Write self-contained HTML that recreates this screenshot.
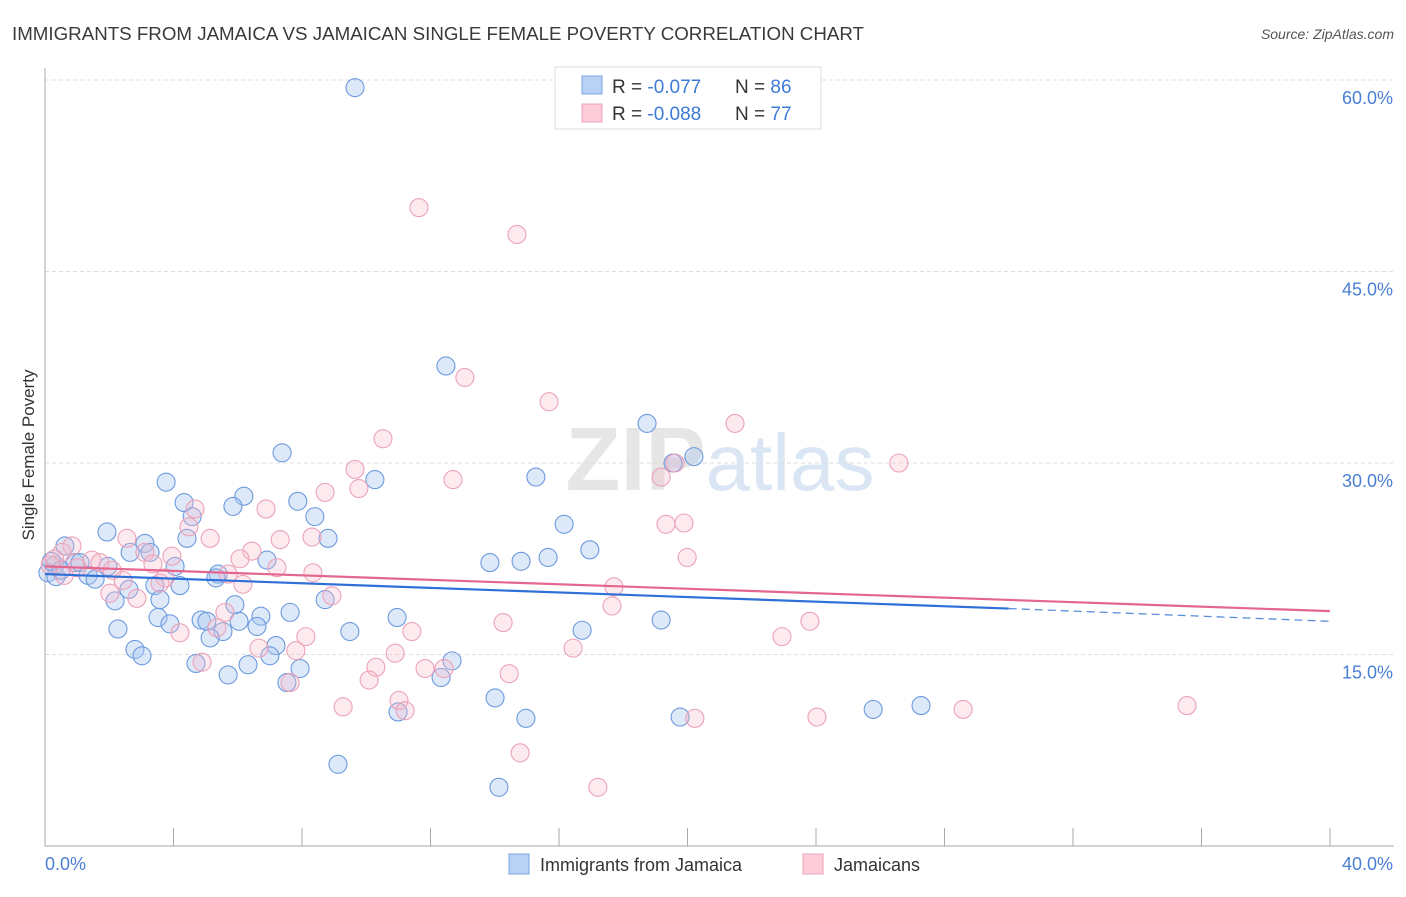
<!DOCTYPE html>
<html><head><meta charset="utf-8"><style>
body{margin:0;background:#fff;font-family:"Liberation Sans",sans-serif;}
svg text{font-family:"Liberation Sans",sans-serif;}
</style></head><body>
<svg id="chart" width="1406" height="892" xmlns="http://www.w3.org/2000/svg">
<text x="12" y="40" font-size="18" fill="#3a3a3a" textLength="852" lengthAdjust="spacingAndGlyphs">IMMIGRANTS FROM JAMAICA VS JAMAICAN SINGLE FEMALE POVERTY CORRELATION CHART</text>
<text x="1394" y="39" font-size="14" fill="#555" font-style="italic" text-anchor="end">Source: ZipAtlas.com</text>
<text x="720" y="490" font-size="90" text-anchor="middle" fill="#e6e6e6" font-family="Liberation Serif"><tspan font-weight="bold">ZIP</tspan><tspan fill="#dbe6f5" font-family="Liberation Sans" font-size="80">atlas</tspan></text>
<g id="grid"></g><g id="axes"></g><g id="pts"></g><g id="trend"></g>
<text transform="translate(34,455) rotate(-90)" font-size="17" fill="#333" text-anchor="middle">Single Female Poverty</text>
<g>
<rect x="555" y="67" width="266" height="62" fill="#fff" stroke="#ddd"/>
<rect x="582" y="76" width="20" height="18" fill="#b8d2f5" stroke="#7aa6e0"/>
<rect x="582" y="104" width="20" height="18" fill="#fcccd9" stroke="#eea0b6"/>
<text x="612" y="93" font-size="19" fill="#333">R = <tspan fill="#3d7bd6">-0.077</tspan></text>
<text x="735" y="93" font-size="19" fill="#333">N = <tspan fill="#3d7bd6">86</tspan></text>
<text x="612" y="120" font-size="19" fill="#333">R = <tspan fill="#3d7bd6">-0.088</tspan></text>
<text x="735" y="120" font-size="19" fill="#333">N = <tspan fill="#3d7bd6">77</tspan></text>
</g>
<g>
<rect x="509" y="854" width="20" height="20" fill="#b8d2f5" stroke="#7aa6e0"/>
<text x="540" y="871" font-size="18" fill="#333">Immigrants from Jamaica</text>
<rect x="803" y="854" width="20" height="20" fill="#fcccd9" stroke="#eea0b6"/>
<text x="834" y="871" font-size="18" fill="#333">Jamaicans</text>
</g>
</svg>
<script>
const blueX=[9.65,12.48,18.74,20.2,19.55,7.38,10.27,15.28,3.77,4.33,6.19,5.85,7.87,4.58,8.4,16.16,1.93,4.42,8.81,3.11,0.62,16.96,2.65,3.27,15.66,14.82,13.85,6.91,4.05,0.93,1.09,0.31,1.96,0.09,0.34,1.34,1.56,5.39,5.32,4.2,3.42,2.61,2.18,3.58,8.72,5.91,7.63,6.72,10.96,4.86,5.04,3.52,3.89,19.18,6.04,6.6,2.27,5.54,5.14,9.49,16.72,7.19,2.8,3.02,7.0,12.67,4.7,6.32,7.94,5.7,12.33,7.53,14.01,27.27,25.78,10.99,19.77,14.97,9.12,14.13,0.2,0.5];
const blueY=[59.4,37.6,33.1,30.5,30.0,30.8,28.7,28.9,28.5,26.9,27.4,26.6,27.0,25.8,25.8,25.2,24.6,24.1,24.1,23.7,23.5,23.2,23.0,23.0,22.6,22.3,22.2,22.4,21.9,22.2,22.2,22.0,21.9,21.4,21.1,21.2,20.9,21.3,21.0,20.4,20.4,20.1,19.2,19.3,19.3,18.9,18.3,18.0,17.9,17.7,17.6,17.9,17.4,17.7,17.6,17.2,17.0,16.8,16.3,16.8,16.9,15.7,15.4,14.9,14.9,14.5,14.3,14.2,13.9,13.4,13.2,12.8,11.6,11.0,10.7,10.5,10.1,10.0,6.4,4.6,22.3,21.6];
const pinkX=[11.64,14.69,13.07,15.69,21.48,10.52,19.61,26.58,9.65,12.7,19.18,9.77,8.72,4.67,6.88,4.48,19.33,19.89,2.55,5.14,7.32,8.31,0.84,0.53,6.44,3.11,3.95,1.46,6.07,19.99,1.71,0.16,3.36,7.22,2.09,5.7,8.34,3.74,2.43,3.58,6.16,17.71,2.02,2.86,8.93,17.65,5.6,14.26,23.81,5.35,4.2,11.42,8.12,22.94,6.66,7.81,16.44,10.9,4.89,10.3,12.42,11.83,14.45,10.09,7.63,11.02,11.21,9.28,20.23,24.03,28.58,35.55,14.79,17.21,0.3,1.0,0.6];
const pinkY=[50.0,47.9,36.7,34.8,33.1,31.9,30.0,30.0,29.5,28.7,28.9,28.0,27.7,26.4,26.4,25.0,25.2,25.3,24.1,24.1,24.0,24.2,23.5,23.0,23.1,23.0,22.7,22.4,22.5,22.6,22.2,22.0,22.1,21.8,21.6,21.3,21.4,21.0,20.8,20.6,20.5,20.3,19.8,19.4,19.6,18.8,18.3,17.5,17.6,17.1,16.7,16.8,16.4,16.4,15.5,15.3,15.5,15.1,14.4,14.0,13.9,13.9,13.5,13.0,12.8,11.4,10.6,10.9,10.0,10.1,10.7,11.0,7.3,4.6,22.5,21.8,21.2];
const yTicks=[15,30,45,60];
const yTickLabels=["15.0%","30.0%","45.0%","60.0%"];
const xTicks=[0,4,8,12,16,20,24,28,32,36,40];
const blueTrend=[21.3,18.6,17.6]; // at x=0, 30, 40
const pinkTrend=[21.9,18.4];       // at x=0, 40
const X0=45,X1=1330,Y0=846,Y1=80;
const sx=v=>X0+(X1-X0)*v/40, sy=v=>Y0-(Y0-Y1)*v/60;
const NS="http://www.w3.org/2000/svg";
function mk(parent,tag,attrs){const e=document.createElementNS(NS,tag);for(const k in attrs)e.setAttribute(k,attrs[k]);document.getElementById(parent).appendChild(e);return e;}
yTicks.forEach((t,i)=>{
 const l=mk('grid','line',{x1:X0,x2:1394,y1:sy(t),y2:sy(t),stroke:'#ddd','stroke-dasharray':'4,3'});
 
 
 const tx=mk('axes','text',{x:1393,y:sy(t)+24,'font-size':18,fill:'#4a7fd4','text-anchor':'end'});
 tx.textContent=yTickLabels[i];
 
 
});
const ax=mk('axes','line',{x1:X0,x2:X0,y1:68,y2:Y0,stroke:'#aaa'});


const bx=mk('axes','line',{x1:X0,x2:1394,y1:Y0,y2:Y0,stroke:'#aaa'});


xTicks.forEach(t=>{
 const l=mk('axes','line',{x1:sx(t),x2:sx(t),y1:828,y2:Y0,stroke:'#aaa'});
 
 
});
const xl0=mk('axes','text',{x:45,y:870,'font-size':18,fill:'#4a7fd4'});xl0.textContent='0.0%';


const xl1=mk('axes','text',{x:1393,y:870,'font-size':18,fill:'#4a7fd4','text-anchor':'end'});xl1.textContent='40.0%';


blueX.forEach((v,i)=>{
 const c=mk('pts','circle',{cx:sx(v),cy:sy(blueY[i]),r:9,fill:'rgba(170,200,240,0.4)',stroke:'#6c9ade','stroke-width':1.1});
 
 
});
pinkX.forEach((v,i)=>{
 const c=mk('pts','circle',{cx:sx(v),cy:sy(pinkY[i]),r:9,fill:'rgba(248,185,202,0.3)',stroke:'#eca2b8','stroke-width':1.1});
 
 
});
const b1=mk('trend','line',{x1:sx(0),y1:sy(blueTrend[0]),x2:sx(30),y2:sy(blueTrend[1]),stroke:'#2e6fd8','stroke-width':2.2});


const b2=mk('trend','line',{x1:sx(30),y1:sy(blueTrend[1]),x2:sx(40),y2:sy(blueTrend[2]),stroke:'#5b8fd9','stroke-width':1.3,'stroke-dasharray':'8,5'});


const p1=mk('trend','line',{x1:sx(0),y1:sy(pinkTrend[0]),x2:sx(40),y2:sy(pinkTrend[1]),stroke:'#e4668e','stroke-width':2.2});


</script>
</body></html>
